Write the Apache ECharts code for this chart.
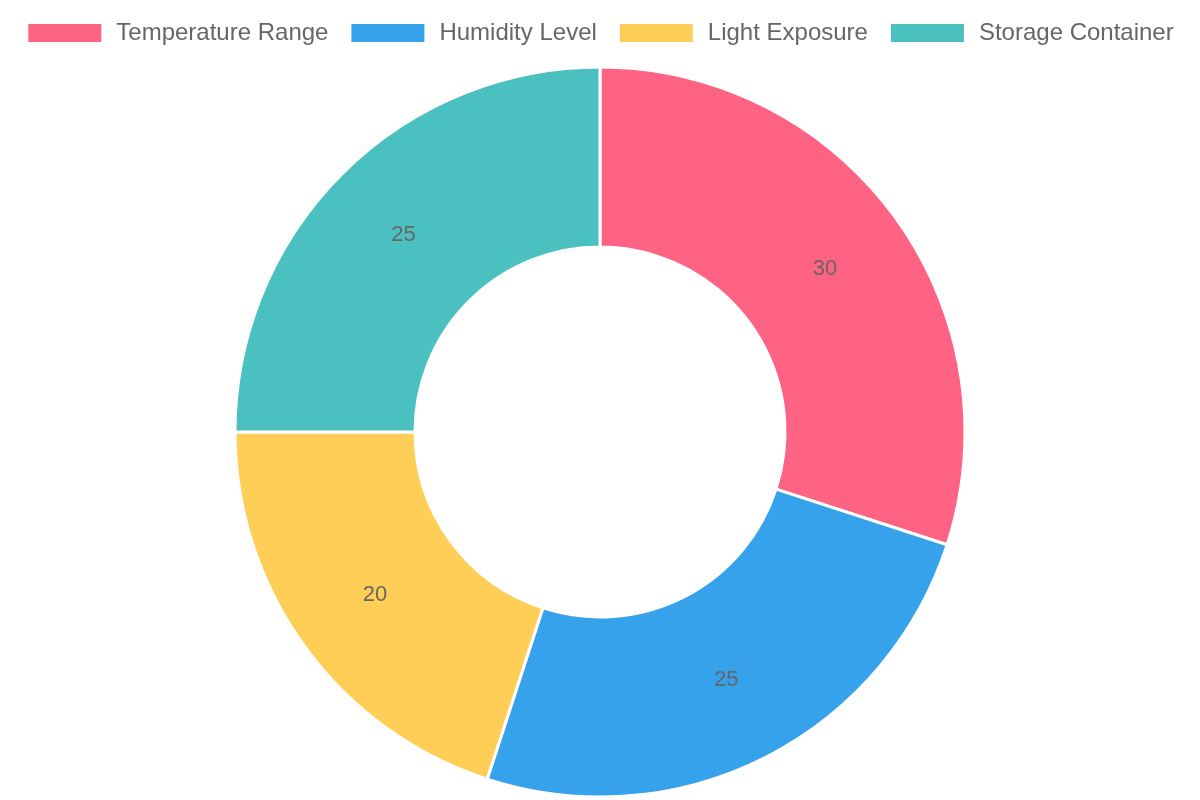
<!DOCTYPE html>
<html>
<head>
<meta charset="utf-8">
<script src="https://cdn.jsdelivr.net/npm/echarts@6/dist/echarts.min.js"></script>
<style>
  html, body { margin: 0; padding: 0; background: #fff; }
  #chart { width: 1200px; height: 800px; }
</style>
</head>
<body>
<div id="chart"></div>
<script>
const categories = ['Temperature Range', 'Humidity Level', 'Light Exposure', 'Storage Container']
const values = [30, 25, 20, 25]
const colors = ['#FF6384', '#36A2EB', '#FFCE56', '#4BC0C0']

const myChart = echarts.init(document.getElementById('chart'))

const option = {
  animation: false,
  color: colors,
  textStyle: { fontFamily: '"Liberation Sans", Arial, sans-serif' },
  legend: {
    top: 16,
    left: 'center',
    itemWidth: 75,
    itemHeight: 20,
    itemGap: 21,
    icon: 'rect',
    data: categories,
    textStyle: {
      fontSize: 24,
      color: '#666',
      padding: [0, 0, 0, 9]
    }
  },
  series: [
    {
      type: 'pie',
      center: [600, 432],
      radius: [185, 365],
      startAngle: 90,
      clockwise: true,
      itemStyle: {
        borderColor: '#fff',
        borderWidth: 3
      },
      label: {
        show: true,
        position: 'inside',
        formatter: '{c}',
        fontSize: 22,
        color: '#666'
      },
      labelLine: { show: false },
      emphasis: { disabled: true },
      data: categories.map((name, i) => ({ name, value: values[i] }))
    }
  ]
}
myChart.setOption(option)
</script>
</body>
</html>
